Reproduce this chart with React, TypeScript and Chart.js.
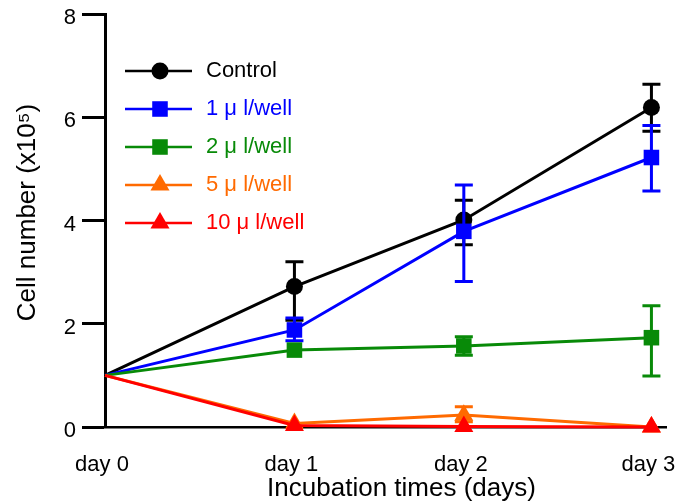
import React, { useEffect, useRef } from "react";
import { Chart, registerables } from "chart.js";

Chart.register(...registerables);

const days = [0, 1.04, 1.97, 3];
const dayLabels = ["day 0", "day 1", "day 2", "day 3"];
const yTicks = [0, 2, 4, 6, 8];
const xTitle = "Incubation times (days)";
const yTitle = "Cell number (x10\u2075)";

const seriesNames = ["Control", "1 \u03bc l/well", "2 \u03bc l/well", "5 \u03bc l/well", "10 \u03bc l/well"];
const seriesColors = ["#000000", "#0000ff", "#088a08", "#ff6a00", "#ff0000"];
const seriesMarkers = ["circle", "rect", "rect", "triangle", "triangle"];

const control = [1, 2.72, 4.01, 6.19];
const controlUp = [0, 0.48, 0.38, 0.45];
const controlDown = [0, 0.65, 0.48, 0.46];

const dose1 = [1, 1.88, 3.79, 5.22];
const dose1Up = [0, 0.23, 0.9, 0.62];
const dose1Down = [0, 0.21, 0.97, 0.65];

const dose2 = [1, 1.49, 1.57, 1.73];
const dose2Up = [0, 0, 0.18, 0.62];
const dose2Down = [0, 0, 0.18, 0.74];

const dose5 = [1, 0.07, 0.23, 0];
const dose5Up = [0, 0, 0.16, 0];
const dose5Down = [0, 0, 0.13, 0];

const dose10 = [1, 0.03, 0.01, 0];
const dose10Up = [0, 0, 0, 0];
const dose10Down = [0, 0, 0, 0];

const seriesValues = [control, dose1, dose2, dose5, dose10];
const seriesUp = [controlUp, dose1Up, dose2Up, dose5Up, dose10Up];
const seriesDown = [controlDown, dose1Down, dose2Down, dose5Down, dose10Down];

const FONT = "'Liberation Sans', Arial, Helvetica, sans-serif";

function markerRadius(style: string) {
  return style === "circle" ? 8.5 : 11;
}

function drawMarker(ctx: CanvasRenderingContext2D, style: string, x: number, y: number, r: number, color: string) {
  ctx.save();
  ctx.fillStyle = color;
  ctx.beginPath();
  if (style === "circle") {
    ctx.arc(x, y, r, 0, Math.PI * 2);
  } else if (style === "rect") {
    const s = r * Math.SQRT1_2;
    ctx.rect(x - s, y - s, 2 * s, 2 * s);
  } else {
    ctx.moveTo(x, y - r);
    ctx.lineTo(x + r * Math.cos(Math.PI / 6), y + r * 0.5);
    ctx.lineTo(x - r * Math.cos(Math.PI / 6), y + r * 0.5);
    ctx.closePath();
  }
  ctx.fill();
  ctx.restore();
}

const errorBarPlugin = {
  id: "errorBars",
  beforeDatasetDraw(chart: any, args: any) {
    const i = args.index;
    const ys = chart.scales.y;
    const xs = chart.scales.x;
    const ctx = chart.ctx;
    ctx.save();
    ctx.strokeStyle = seriesColors[i];
    ctx.lineWidth = 3;
    seriesValues[i].forEach((v, k) => {
      const up = seriesUp[i][k];
      const dn = seriesDown[i][k];
      if (!up && !dn) return;
      const x = xs.getPixelForValue(days[k]);
      const yTop = ys.getPixelForValue(v + up);
      const yBot = ys.getPixelForValue(v - dn);
      ctx.beginPath();
      ctx.moveTo(x, yTop);
      ctx.lineTo(x, yBot);
      if (up) {
        ctx.moveTo(x - 9, yTop);
        ctx.lineTo(x + 9, yTop);
      }
      if (dn) {
        ctx.moveTo(x - 9, yBot);
        ctx.lineTo(x + 9, yBot);
      }
      ctx.stroke();
    });
    ctx.restore();
  },
};

const legendAndTitlesPlugin = {
  id: "legendAndTitles",
  afterDraw(chart: any) {
    const ctx = chart.ctx;
    const area = chart.chartArea;
    ctx.save();
    seriesNames.forEach((name, i) => {
      const y = area.top + 57 + i * 38;
      const x0 = area.left + 20;
      ctx.strokeStyle = seriesColors[i];
      ctx.lineWidth = 2.7;
      ctx.beginPath();
      ctx.moveTo(x0, y);
      ctx.lineTo(x0 + 67, y);
      ctx.stroke();
      drawMarker(ctx, seriesMarkers[i], x0 + 35, y, markerRadius(seriesMarkers[i]), seriesColors[i]);
      ctx.fillStyle = seriesColors[i];
      ctx.font = `22px ${FONT}`;
      ctx.textAlign = "left";
      ctx.textBaseline = "middle";
      ctx.fillText(name, x0 + 81, y);
    });
    ctx.fillStyle = "#000";
    ctx.font = `26px ${FONT}`;
    ctx.textAlign = "center";
    ctx.textBaseline = "middle";
    ctx.fillText(xTitle, (area.left + area.right) / 2 + 16, area.bottom + 62);
    ctx.save();
    ctx.translate(28, (area.top + area.bottom) / 2 - 8);
    ctx.rotate(-Math.PI / 2);
    ctx.fillText(yTitle, 0, 0);
    ctx.restore();
    ctx.restore();
  },
};

export default function App() {
  const ref = useRef<HTMLCanvasElement | null>(null);

  useEffect(() => {
    document.body.style.margin = "0";
    const canvas = ref.current;
    if (!canvas) return;
    const datasets = seriesNames.map((name, i) => ({
      label: name,
      data: seriesValues[i].map((v, k) => ({ x: days[k], y: v })),
      borderColor: seriesColors[i],
      backgroundColor: seriesColors[i],
      borderWidth: 3,
      pointStyle: seriesMarkers[i],
      pointRadius: (c: any) => (c.dataIndex === 0 ? 0 : markerRadius(seriesMarkers[i])),
      pointHoverRadius: (c: any) => (c.dataIndex === 0 ? 0 : markerRadius(seriesMarkers[i])),
      pointBackgroundColor: seriesColors[i],
      pointBorderColor: seriesColors[i],
      pointBorderWidth: 0,
      tension: 0,
      clip: false as any,
      order: seriesNames.length - i,
    }));
    const chart = new Chart(canvas, {
      type: "line",
      data: { datasets },
      options: {
        responsive: false,
        animation: false,
        layout: { padding: { top: 14, right: 13, left: 0, bottom: 0 } },
        plugins: {
          legend: { display: false },
          tooltip: { enabled: false },
        },
        scales: {
          x: {
            type: "linear",
            min: 0,
            max: 3.08,
            afterBuildTicks: (scale: any) => {
              scale.ticks = days.map((v) => ({ value: v }));
            },
            afterFit: (scale: any) => {
              scale.height = 76;
              scale.paddingLeft = 0;
              scale.paddingRight = 0;
            },
            grid: { display: true, drawOnChartArea: false, drawTicks: false },
            border: { display: true, color: "#000", width: 2.5 },
            ticks: {
              padding: 25,
              color: "#000",
              font: { family: FONT, size: 22 },
              maxRotation: 0,
              autoSkip: false,
              labelOffset: -3,
              callback: (_v: any, idx: number) => dayLabels[idx],
            },
          },
          y: {
            type: "linear",
            min: 0,
            max: 8,
            afterBuildTicks: (scale: any) => {
              scale.ticks = yTicks.map((v) => ({ value: v }));
            },
            afterFit: (scale: any) => {
              scale.width = 105;
              scale.paddingTop = 0;
              scale.paddingBottom = 0;
            },
            grid: {
              display: true,
              drawOnChartArea: false,
              drawTicks: true,
              tickLength: 23,
              tickWidth: 3,
              tickColor: "#000",
            },
            border: { display: true, color: "#000", width: 3 },
            ticks: {
              padding: 6,
              color: "#000",
              font: { family: FONT, size: 22 },
              labelOffset: 4,
              callback: (v: any) => String(v),
            },
          },
        },
      },
      plugins: [errorBarPlugin, legendAndTitlesPlugin],
    });
    return () => chart.destroy();
  }, []);

  return <canvas ref={ref} width={679} height={503} style={{ display: "block" }} />;
}
